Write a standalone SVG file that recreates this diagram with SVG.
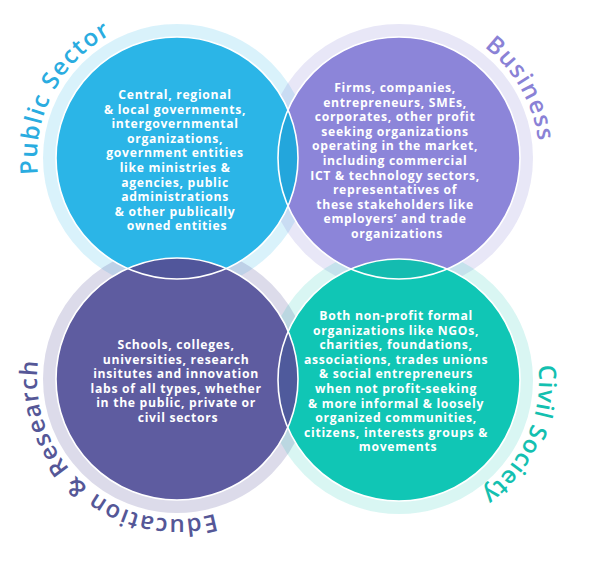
<svg xmlns="http://www.w3.org/2000/svg" width="600" height="563" viewBox="0 0 600 563">
<defs>
<style>
.ring{fill:none;stroke-width:13}
.body{font-family:"Open Sans","Liberation Sans",sans-serif;font-weight:700;font-size:12.2px;fill:#ffffff;text-anchor:middle;letter-spacing:0.7px}
.lbl{font-family:"Open Sans","Liberation Sans",sans-serif;font-weight:600;font-size:24px}
.edge{fill:none;stroke:#ffffff;stroke-width:1.6}
</style>
<clipPath id="clipP"><circle cx="177" cy="158" r="121"/></clipPath>
<clipPath id="clipB"><circle cx="399" cy="158" r="121"/></clipPath>
<clipPath id="clipC"><circle cx="399" cy="380" r="121"/></clipPath>
<path id="arcP" d="M37.93,174.09 A140,140 0 0 1 152.69,20.13"/>
<path id="arcB" d="M484.23,46.93 A140,140 0 0 1 539,158"/>
<path id="arcC" d="M538.23,365.37 A140,140 0 0 1 446.88,511.56"/>
<path id="arcE" d="M215.12,513.71 A140,140 0 0 1 45.44,331.12"/>
</defs>
<rect width="600" height="563" fill="#ffffff"/>
<g id="rings">
<circle class="ring" cx="177" cy="158" r="127.5" stroke="#2bb5e7" stroke-opacity="0.18"/>
<circle class="ring" cx="399" cy="158" r="127.5" stroke="#8c85d9" stroke-opacity="0.2"/>
<circle class="ring" cx="177" cy="379" r="127.5" stroke="#5e5ca0" stroke-opacity="0.22"/>
<circle class="ring" cx="399" cy="380" r="127.5" stroke="#12c7b5" stroke-opacity="0.16"/>
</g>
<g id="business">
<circle cx="399" cy="158" r="121" fill="#8c85d9"/>
<text class="body" x="397">
<tspan x="397" y="92">Firms, companies,</tspan>
<tspan x="397" y="106.6">entrepreneurs, SMEs,</tspan>
<tspan x="397" y="121.2">corporates, other profit</tspan>
<tspan x="397" y="135.8">seeking organizations</tspan>
<tspan x="397" y="150.4">operating in the market,</tspan>
<tspan x="397" y="165">including commercial</tspan>
<tspan x="397" y="179.6">ICT &amp; technology sectors,</tspan>
<tspan x="397" y="194.2">representatives of</tspan>
<tspan x="397" y="208.8">these stakeholders like</tspan>
<tspan x="397" y="223.4">employers’ and trade</tspan>
<tspan x="397" y="238">organizations</tspan>
</text>
<text class="lbl" fill="#8a82d6"><textPath href="#arcB" textLength="111" lengthAdjust="spacing">Business</textPath></text>
</g>
<g id="public-sector">
<circle cx="177" cy="158" r="121" fill="#2bb5e7"/>
<text class="body" x="177">
<tspan x="177" y="99">Central, regional</tspan>
<tspan x="177" y="113.6">&amp; local governments,</tspan>
<tspan x="177" y="128.2">intergovernmental</tspan>
<tspan x="177" y="142.8">organizations,</tspan>
<tspan x="177" y="157.4">government entities</tspan>
<tspan x="177" y="172">like ministries &amp;</tspan>
<tspan x="177" y="186.6">agencies, public</tspan>
<tspan x="177" y="201.2">administrations</tspan>
<tspan x="177" y="215.8">&amp; other publically</tspan>
<tspan x="177" y="230.4">owned entities</tspan>
</text>
<text class="lbl" fill="#2aace0"><textPath href="#arcP" textLength="167" lengthAdjust="spacing">Public Sector</textPath></text>
</g>
<g id="civil-society">
<circle cx="399" cy="380" r="121" fill="#10c6b5"/>
<text class="body" x="398">
<tspan x="398" y="320">Both non-profit formal</tspan>
<tspan x="398" y="334.6">organizations like NGOs,</tspan>
<tspan x="398" y="349.2">charities, foundations,</tspan>
<tspan x="398" y="363.8">associations, trades unions</tspan>
<tspan x="398" y="378.4">&amp; social entrepreneurs</tspan>
<tspan x="398" y="393">when not profit-seeking</tspan>
<tspan x="398" y="407.6">&amp; more informal &amp; loosely</tspan>
<tspan x="398" y="422.2">organized communities,</tspan>
<tspan x="398" y="436.8">citizens, interests groups &amp;</tspan>
<tspan x="398" y="451.4">movements</tspan>
</text>
<text class="lbl" fill="#14c0b0"><textPath href="#arcC" textLength="146" lengthAdjust="spacing">Civil Society</textPath></text>
</g>
<g id="education-research">
<circle cx="177" cy="379" r="121" fill="#5e5ca0"/>
<text class="body" x="178">
<tspan x="178" y="349">Schools, colleges,</tspan>
<tspan x="178" y="363.5">universities, research</tspan>
<tspan x="178" y="378">insitutes and innovation</tspan>
<tspan x="178" y="392.5">labs of all types, whether</tspan>
<tspan x="178" y="407">in the public, private or</tspan>
<tspan x="178" y="421.5">civil sectors</tspan>
</text>
<text class="lbl" fill="#555797"><textPath href="#arcE" textLength="276" lengthAdjust="spacing">Education &amp; Research</textPath></text>
</g>
<g id="overlaps">
<circle cx="399" cy="158" r="121" fill="#23a6dc" clip-path="url(#clipP)"/>
<circle cx="177" cy="379" r="121" fill="#51569b" clip-path="url(#clipP)"/>
<circle cx="399" cy="380" r="121" fill="#14bcb0" clip-path="url(#clipB)"/>
<circle cx="177" cy="379" r="121" fill="#4f5a9c" clip-path="url(#clipC)"/>
<circle class="edge" cx="177" cy="158" r="121"/>
<circle class="edge" cx="399" cy="158" r="121"/>
<circle class="edge" cx="177" cy="379" r="121"/>
<circle class="edge" cx="399" cy="380" r="121"/>
</g>
</svg>
